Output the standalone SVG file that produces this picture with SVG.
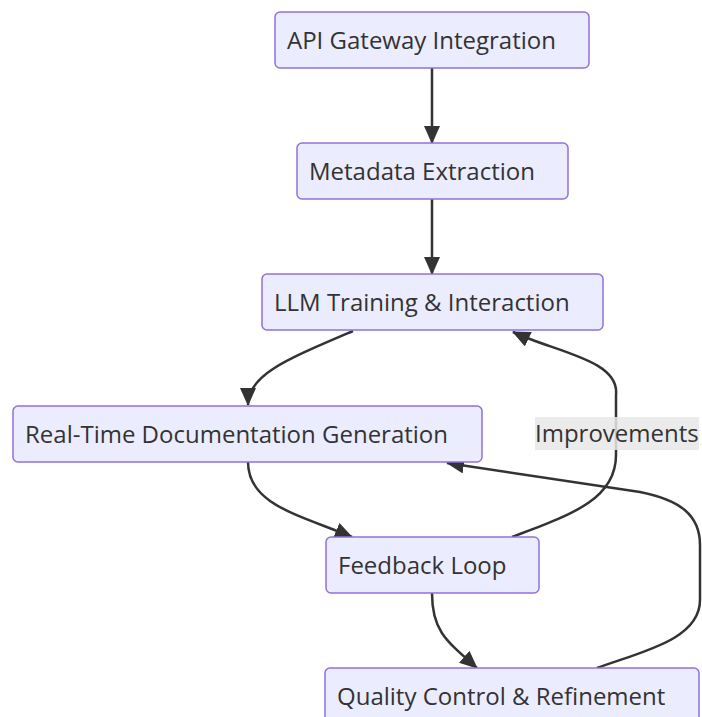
<svg xmlns="http://www.w3.org/2000/svg" width="702" height="717" viewBox="0 0 702 717">
  <style>
    .node rect { fill: #ECECFF; stroke: #9370DB; stroke-width: 1.5; }
    .node text, .label text { font-family: "Open Sans", "Noto Sans", sans-serif; font-size: 24px; fill: #333333; }
    .edge { fill: none; stroke: #333333; stroke-width: 2.5; }
    .label rect { fill: #e8e8e8; opacity: 0.85; }
  </style>
  <defs>
    <marker id="arrow" viewBox="0 0 18 16" markerWidth="18" markerHeight="16" refX="17" refY="8" orient="auto" markerUnits="userSpaceOnUse">
      <path d="M0,0 L18,8 L0,16 z" fill="#333333"/>
    </marker>
  </defs>
  <rect width="702" height="717" fill="#ffffff"/>

  <g id="edges">
    <path class="edge" d="M432,68 L432,143" marker-end="url(#arrow)"/>
    <path class="edge" d="M432,199 L432,274" marker-end="url(#arrow)"/>
    <path class="edge" d="M353,331 C285,360 248,375 248,405" marker-end="url(#arrow)"/>
    <path class="edge" d="M248,462 C248,505 300,515 352,537" marker-end="url(#arrow)"/>
    <path class="edge" d="M512,537 C570,515 616,500 616,455 L616,395 C620,360 555,352 513,332" marker-end="url(#arrow)"/>
    <path class="edge" d="M432,593 C432,630 445,640 477,668" marker-end="url(#arrow)"/>
    <path class="edge" d="M597,668 C640,652 700,640 700,600 L700,545 C700,515 680,500 640,492 L447,463" marker-end="url(#arrow)"/>
  </g>

  <g id="edge-label-improvements" class="label">
    <rect x="535" y="417" width="164" height="33"/>
    <text x="535" y="442">Improvements</text>
  </g>

  <g id="node-api-gateway" class="node">
    <rect x="275" y="12" width="314" height="56" rx="5"/>
    <text x="287" y="49">API Gateway Integration</text>
  </g>
  <g id="node-metadata" class="node">
    <rect x="297" y="143" width="271" height="56" rx="5"/>
    <text x="309" y="180">Metadata Extraction</text>
  </g>
  <g id="node-llm" class="node">
    <rect x="262" y="274" width="341" height="56" rx="5"/>
    <text x="274" y="311">LLM Training &amp; Interaction</text>
  </g>
  <g id="node-docs" class="node">
    <rect x="13" y="406" width="469" height="56" rx="5"/>
    <text x="25" y="443">Real-Time Documentation Generation</text>
  </g>
  <g id="node-feedback" class="node">
    <rect x="326" y="537" width="213" height="56" rx="5"/>
    <text x="338" y="574">Feedback Loop</text>
  </g>
  <g id="node-quality" class="node">
    <rect x="325" y="668" width="374" height="56" rx="5"/>
    <text x="337" y="705">Quality Control &amp; Refinement</text>
  </g>
</svg>
